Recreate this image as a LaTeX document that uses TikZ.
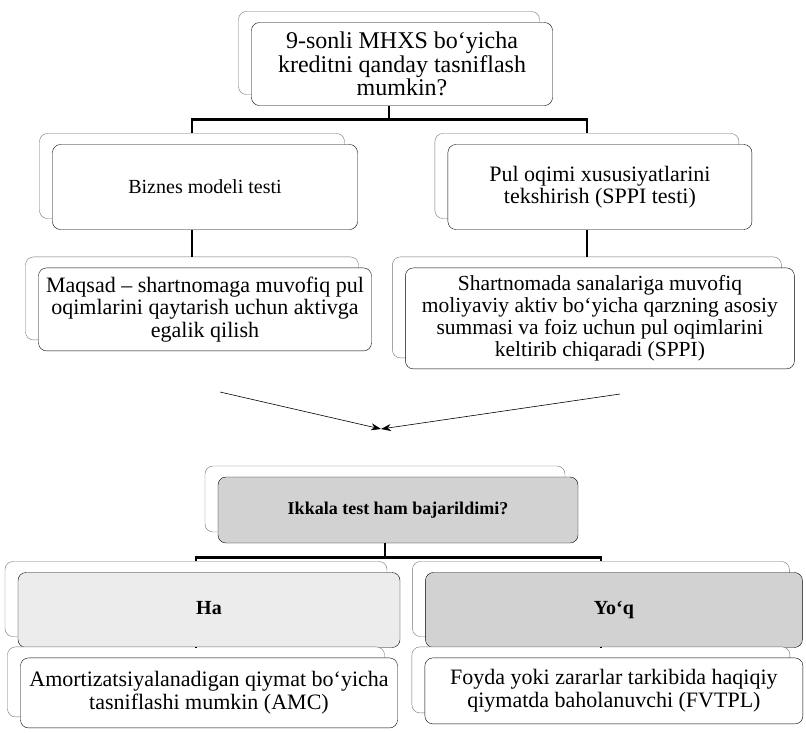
\documentclass[tikz,border=0pt]{standalone}
\usepackage{fontspec}
\setmainfont{Liberation Serif}
\usetikzlibrary{arrows,arrows.meta,positioning,shadows}

\begin{document}
\begin{tikzpicture}[x=1pt,y=-1pt,>={Stealth[length=10pt,width=7pt]},
    box/.style={draw,rounded corners=8pt,fill=white,align=center,inner sep=4pt,
      font=\fontsize{22}{22.5}\selectfont,
      copy shadow={shadow xshift=-13pt,shadow yshift=11pt,draw=black!55,fill=white}},
    tag/.style={box,minimum height=75pt,text height=14pt,text depth=5pt,font=\fontsize{20}{22}\selectfont\bfseries},
    link/.style={line width=2.6pt},
    arr/.style={->,semithick}]
  \useasboundingbox (0,0) rectangle (806,732);

  \node[box,minimum width=301pt,minimum height=83pt,font=\fontsize{24}{23.5}\selectfont] (q) at (402,64)
    {9-sonli MHXS bo`yicha\\kreditni qanday tasniflash\\mumkin?};
  \node[box,minimum width=305pt,minimum height=85pt,font=\fontsize{20}{22}\selectfont] (biz) at (205,187)
    {Biznes modeli testi};
  \node[box,minimum width=304pt,minimum height=85pt] (sppi) [right=90pt of biz]
    {Pul oqimi xususiyatlarini\\tekshirish (SPPI testi)};
  \node[box,minimum width=333pt,minimum height=83pt] (maq) [below=38pt of biz]
    {Maqsad -- shartnomaga muvofiq pul\\oqimlarini qaytarish uchun aktivga\\egalik qilish};
  \node[box,minimum width=389pt,minimum height=101pt,font=\fontsize{21.5}{22}\selectfont] (shart) [below=38pt of sppi]
    {Shartnomada sanalariga muvofiq\\moliyaviy aktiv bo`yicha qarzning asosiy\\summasi va foiz uchun pul oqimlarini\\keltirib chiqaradi (SPPI)};

  \coordinate (al) at (220,392);
  \coordinate (ar) at (620,394);
  \coordinate (m) at (381,429);

  \node[box,fill=gray!35,minimum width=360pt,minimum height=66pt,font=\fontsize{18}{20}\selectfont\bfseries] (ikk) at (398,510)
    {Ikkala test ham bajarildimi?};
  \node[tag,fill=gray!15,minimum width=382pt] (ha) at (209,610) {Ha};
  \node[tag,fill=gray!35,minimum width=377pt] (yoq) [right=25pt of ha] {Yo`q};
  \node[box,minimum width=377pt,minimum height=70pt] (amc) [below=10pt of ha]
    {Amortizatsiyalanadigan qiymat bo`yicha\\tasniflashi mumkin (AMC)};
  \node[box,minimum width=378pt,minimum height=66pt] (fvt) [below=10pt of yoq]
    {Foyda yoki zararlar tarkibida haqiqiy\\qiymatda baholanuvchi (FVTPL)};

  \draw[link] ([xshift=-13pt]q.south) -- ++(0,14) coordinate (qj);
  \draw[link] ([shift={(-13pt,11pt)}]biz.north) |- (qj) -| ([shift={(-13pt,11pt)}]sppi.north);
  \draw[link] ([xshift=-13pt]biz.south) -- ([shift={(-13pt,11pt)}]maq.north);
  \draw[link] ([xshift=-13pt]sppi.south) -- ([shift={(-13pt,11pt)}]shart.north);
  \draw[arr] (al) -- (m);
  \draw[arr] (ar) -- (m);
  \draw[link] ([xshift=-13pt]ikk.south) -- ++(0,14) coordinate (ij);
  \draw[link] ([shift={(-13pt,11pt)}]ha.north) |- (ij) -| ([shift={(-13pt,11pt)}]yoq.north);
  \draw[link] ([xshift=-13pt]ha.south) -- ([shift={(-13pt,11pt)}]amc.north);
  \draw[link] ([xshift=-13pt]yoq.south) -- ([shift={(-13pt,11pt)}]fvt.north);
\end{tikzpicture}
\end{document}
